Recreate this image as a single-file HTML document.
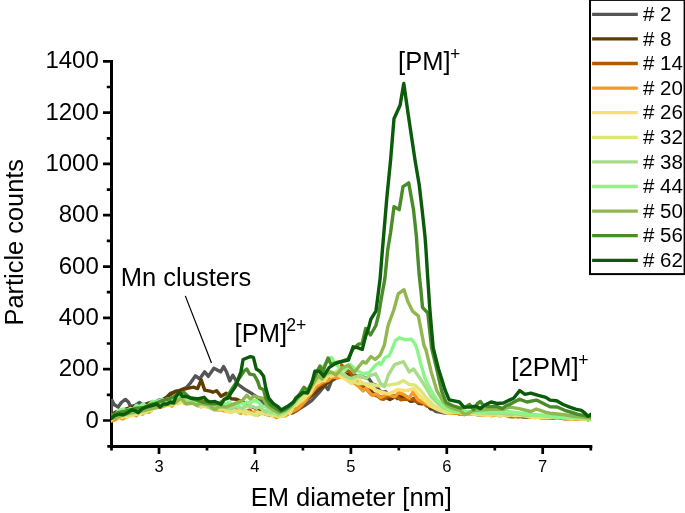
<!DOCTYPE html>
<html><head><meta charset="utf-8"><title>Particle counts vs EM diameter</title>
<style>html,body{margin:0;padding:0;background:#fff}svg{display:block}text{font-family:"Liberation Sans",Arial,sans-serif;fill:#000}</style>
</head><body>
<svg width="685" height="513" viewBox="0 0 685 513">
<rect width="685" height="513" fill="#fff"/>
<g stroke="#000" stroke-width="3" fill="none" stroke-linecap="butt">
<path d="M111.5 59.95V447.9"/>
<path d="M110.0 446.4H592.3"/>
<path stroke-width="2.7" d="M107.3 446.4H111.5M103 420.5H111.5M106.8 394.8H111.5M103 369.2H111.5M106.8 343.5H111.5M103 317.9H111.5M106.8 292.2H111.5M103 266.6H111.5M106.8 240.9H111.5M103 215.2H111.5M106.8 189.6H111.5M103 163.9H111.5M106.8 138.3H111.5M103 112.6H111.5M106.8 87.0H111.5M103 61.3H111.5"/>
<path stroke-width="2.7" d="M111.5 446.4V450.6M159.0 446.4V454M207.0 446.4V450.6M254.9 446.4V454M302.9 446.4V450.6M350.9 446.4V454M398.8 446.4V450.6M446.8 446.4V454M494.8 446.4V450.6M542.7 446.4V454M590.8 446.4V450.6"/>
</g>
<clipPath id="plotclip"><rect x="110.9" y="50" width="480.1" height="396"/></clipPath>
<g fill="none" stroke-width="3.4" stroke-linejoin="round" stroke-linecap="butt" clip-path="url(#plotclip)">
<polyline stroke="#555555" points="109,411 110.9,412 112.1,400.4 114.1,404.5 118.2,407.1 121.3,402.5 125.4,399.4 128.4,402 130.5,406.6 135,405.5 139.7,402.5 143,405 147,404.5 152,404 156,402 159.1,399.9 163,399.5 167,397 170.3,393.3 175,392 180.2,390.1 186.4,387.6 190.4,383 195.5,375.8 199.6,378.9 204.7,371.8 208.3,376.4 213.9,368.2 220.6,371.8 223.6,366.6 226.7,372.3 229.8,380.9 232.8,375.3 235.4,379.4 237.5,384 243.9,388.7 251.2,393.1 258.5,398.2 266,405 274,411 282,414.5 292.9,412.9 304.6,405.6 311.9,400.4 319.2,392.4 325.1,385.1 328,389.5 331.7,380.7 338,377 345,374 352,375 359,376 366,377.8 369,378.9 372.6,384.1 375.8,385.1 379.5,390.8 382.8,392.1 385.8,391.7 388.9,395.8 391.6,398.1 394.6,395.5 397.3,398.5 400.9,397.9 404.3,395.3 407.4,398.2 410.2,401.1 413.3,398.5 417.1,399.5 420.9,402.3 424.3,403.5 427.6,404.4 430.3,408.7 433.2,409.5 436.1,411.5 439.9,412.1 445,413 450.3,411.9 454.1,413.4 459,413.4 463.1,413.5 467.8,413.7 471.7,413.7 476,414.4 481.4,415.1 486,414.5 490.1,414 493.7,414.9 497.9,414.9 503.1,415.4 507.7,415.2 511.4,415.5 515.2,415.9 520.6,416.4 524.5,417 529.6,417 534.8,417.2 539.8,416.8 545.2,418 549.1,417.8 554,417.6 558.5,417.8 563.8,418.1 568.9,418 574.1,419.1 578.5,418.8 583.8,419.2 588.2,418.6"/>
<polyline stroke="#603c00" points="109.5,414.7 112.4,414.3 116.8,411.5 121,413 125,409.4 128.9,408 132.5,407 135.4,409.6 138.4,407.6 141.6,406.1 144.9,404.4 148.6,403.1 151.6,402.1 154.6,402.7 158.4,401.6 161.2,400.4 165.2,398.7 170,394.7 175.6,391.2 180.2,390.7 184.3,389.1 188.4,388.1 193.5,387.1 197.6,388.6 201.2,379.9 204.7,390.1 209.9,391.2 212.9,392.2 216.5,390.7 221.1,396.3 226.2,393.2 231.3,398.8 236.4,399.3 241,401 250,406 260,410 270,413 280,414.5 290,412.5 300,406 310,397 318,390 326,384 334,378 342,374 350,375 357.3,379.2 360.5,382.1 363.7,385.1 366.9,389.1 369.7,389.8 373.4,393.6 377.2,395.5 380.3,396.7 383.1,396.6 386.5,397.7 389.9,399.6 393.8,397.6 396.9,395.9 400.7,396.1 404.5,397.2 407.7,399.5 411.6,401.3 415.3,400.4 418.4,403.3 421.9,403.9 424.6,402.4 427.8,405.1 430.8,408.7 434.7,407.7 437.4,408.6 445,411.9 450.3,412 455.2,412.2 459.2,413.9 463.2,413.6 467.6,413.5 472.1,413.4 477.2,413.5 481.3,413.6 485.3,414.4 490.6,414.6 494.4,414.6 499.8,414.5 504.5,415.2 509.3,415.4 514.1,415.9 518.9,416.7 523.5,415.7 527.2,417.2 531.7,416.2 537,417 541.9,417.7 546,417.1 551.2,416.9 556.2,417.1 561,418.3 566.4,418.7 570.9,417.9 574.7,418.6 579.2,418 584.5,418.9 589.3,418.7"/>
<polyline stroke="#b35a00" points="109.5,415.9 111.7,415.5 115.3,416.4 119.1,413.5 122.1,414.3 125.6,411.6 129.2,411.1 132.8,409.1 135.8,411.5 138.9,408.2 142.6,408.8 145.4,407.8 148.9,405.4 152.4,404.3 155.5,403.4 158.4,406.2 161.6,405.4 164.8,403 168.6,402.2 171.4,400.9 174.9,398.3 177.7,400.2 181,397 184.2,397.8 187.9,399.8 190.7,401.5 193.4,399.5 196.1,401.4 198.9,400.6 201.7,400.8 205.2,401.9 208.5,402.4 211.7,403.6 214.4,403.8 217.4,405.9 221.3,403.5 224.1,406.6 227.5,404.6 231.1,409.1 234.3,407.7 237.7,411.1 240.6,409.4 243.5,411.6 246.8,410.7 249.9,410.1 253,414.2 256.4,411.8 260.3,412.5 263.3,411.5 266.1,412.4 269,415.4 272,413.2 275.5,416.2 278.5,415.5 281.6,414.7 285,415.8 288.7,413.3 292.4,410.9 295.6,411.2 298.9,408.3 302,406 305.4,399.5 309.3,396.1 312.4,392.2 315.2,389.1 318.7,385.3 321.7,384.3 325.1,382 328.7,379.3 331.9,378.6 334.7,377 338.5,374.5 341.8,365 346,369.8 349.7,372 355.8,379.2 359,382.8 361.7,386.8 364.6,389 367.2,389.6 370.6,394 374.4,394.8 377.4,396 381,398.8 383.9,399.2 387,396.8 390.6,395.9 394,396 397,396.4 400.7,399.7 404.4,399.4 407.7,399.1 411.2,399.6 414,399.6 417.1,401.9 420.8,402.7 424,403.4 427.4,406.4 430.7,406.4 434.5,407.1 437.5,408.1 445,411.8 449.9,412.9 455.2,412.6 459.2,413.6 464,413.2 468.8,413.6 473.8,413.4 477.8,414.9 482.1,414.1 487.1,414.9 491,415 495.8,414.6 500.6,414.7 504.8,414.9 508.7,416.5 513.1,416.7 517.5,416.3 522.6,416.7 526.4,416.7 531.2,416.2 534.9,417.5 539.5,416.6 543.9,416.9 548.9,417.5 552.7,418.2 556.5,417.5 560.1,418.4 563.9,418.2 567.7,418.3 572.5,418.6 576.9,418.7 581.3,419 585.1,419 589.1,419.8"/>
<polyline stroke="#f59a23" points="109.5,421.4 111.7,421 115.2,419.9 119.1,417.3 122.6,419.1 126.4,416.9 129.2,415.6 133.2,413.4 136.2,415.9 139.5,412.3 142.5,414.2 145.6,411.7 149.1,412.3 152.4,408.7 155.8,407.6 158.5,407.5 162.1,406.9 165.6,405.4 168.4,404.1 172,406.2 174.9,402.9 177.6,403.7 180.6,401.1 184.1,403.1 187.3,401.7 190.8,403.6 194,402.5 197.9,405.7 201.5,406.8 204.9,405.1 207.7,406.8 211,406.9 214.9,409.4 217.7,410.1 220.4,409.7 223.4,410.7 227.3,410.7 231,409.5 234.5,410.2 237.7,411.5 240.5,413.4 243.2,411.9 246,413.8 249,411.8 251.7,412.7 255,412.2 257.7,415 261,413.3 264.1,413.6 267.1,414.9 270,414.4 272.9,415.1 276.3,417.6 279.8,415.9 282.4,414.9 285.9,415.1 290,412.9 298.8,407.7 304.6,401.9 310.5,393.9 316.3,386.5 322.2,382.2 328,380.7 332.4,376.3 338,378 344,375 350,380 358.7,386.5 363.1,390.9 366,388 371.9,395.3 376.3,393.9 380.6,397.5 387.3,394 394.6,396.8 399,392.4 404.9,395.3 409.2,398.2 412.9,392.4 418,399.7 423.9,402.6 429.7,405.6 438.5,409.2 444.3,411.4 449,413.4 453.8,413.4 459.1,412.9 463.8,414.2 469,414 472.9,414 478.3,413.8 482.4,415.3 486.9,414.3 491,415.7 495.2,415.1 500,415.9 504.4,415 509.1,415.1 512.8,415.5 517.7,415.9 522.5,415.9 526.3,415.9 531.2,417.4 535.2,416.6 538.8,417.4 543,416.8 547.7,417.7 552.1,417.2 556.9,418.1 561.3,417.6 566.6,419 571.4,419.4 576,418.5 579.8,419.1 584.4,419 589.8,419.9"/>
<polyline stroke="#fbdf70" points="109.5,420.3 111.7,419.9 114.6,416.8 118,415.2 121.7,417.4 124.4,416.3 127.7,415.3 131.6,415.9 134.8,414.5 138.5,414.1 141.1,413.4 144.1,409.1 147.5,411.4 151.4,408.3 155.1,405.9 159.1,406 162.4,404.3 165.1,403.1 168.5,404.5 172.3,404.7 175.5,403.7 178.4,403 181.3,402.9 184.5,401.2 187.8,400 190.5,402.6 194.1,401.1 197.3,403.2 201,406.7 203.7,405.4 206.5,407.1 210.4,407.6 213.8,405.5 216.6,407 219.3,407.1 223.2,408.8 227.1,411.4 230.7,412.7 234.3,410.7 237.5,411.3 240.2,410.2 243.6,412.7 247.5,413.6 251.3,413.3 254.7,415.2 257.4,411.9 260.6,413.4 263.8,412.8 266.6,413.2 270.1,413.3 272.7,416.4 275.9,413.7 279.8,415.8 283.7,416 287.1,412.7 289.8,413.4 293.1,407 295.9,405.6 299.8,402.2 303.5,399.5 306.8,395.6 310.5,392.9 313.2,386.8 316.1,383.5 319.1,382.1 322.1,380.3 324.7,380.5 328.3,374.8 331.2,376.3 334,375.3 336.7,374 345.6,379.2 351.4,383.6 357.3,377.8 360.5,381.5 368.9,386.5 377.7,390.9 383,392.4 388.8,393.9 397.5,389.5 406,390.9 413.6,388.7 418,393.9 423.9,399.7 431.2,406.3 438.5,409.9 445,412.5 450,412.9 454,412.2 458.6,412.3 463.6,413.7 467.3,413.8 471.8,413.9 477.1,414.8 481.5,414.8 486.5,415.3 490.1,415.4 494.1,414.3 498.8,415.6 504.1,415.1 509.2,414.8 514.6,415.5 519.2,415.4 522.8,415.4 527.5,416.5 532.6,417.2 536.9,417.4 540.9,417.6 545,417.9 549.2,417.2 553.8,416.8 557.5,417.8 562.4,417.2 566.7,417.9 571.7,419.1 575.5,418.5 579.3,419.1 584.6,419.1 589.2,418.3"/>
<polyline stroke="#dce67a" points="109.5,416.8 111.7,416.4 114.6,416.9 118.5,417 122,414.6 125.4,417 128.7,416.6 132.5,413.1 135.1,414.2 137.9,410.2 141.5,413 145.3,412.6 148.2,408.1 151,411.3 153.8,407 156.4,405.8 159.1,406.4 162,405.5 165.9,403.8 169.6,405.2 173,403.4 176.6,402.4 179.6,400.4 182.5,400.8 186.5,401.3 189.2,401.8 192.9,402.2 196.5,401.2 199.2,404.1 201.9,403.1 205.1,403.3 207.7,403.1 211.6,407 215.5,407.1 219.4,409.5 222.9,408.7 226.2,408 229.3,410.8 232.2,411.8 235.5,411.2 239.3,411.9 242.1,410.5 244.7,409.9 248.6,412.8 252.5,414 255.6,415.1 259.5,413.3 262.2,412.9 265.1,413.4 267.8,415.2 271.8,413.4 275.4,415.4 278.7,416.8 281.8,416.4 284.5,415.9 287.4,409.5 291.2,409.2 294.7,405.2 297.9,400.2 300.9,401.5 304.9,394 308.1,391.4 311.9,385.4 315.7,382.7 319,378.8 321.8,380.1 325.1,378.5 328.9,375.3 331.6,373.4 335.6,371.8 338.3,369.6 342.2,372.6 351,381 358.7,383.6 366,383.6 371.9,384.4 377.7,385.8 383.6,385.1 388.8,385.1 397.5,383.6 403.4,380.7 409.2,384.4 415.1,385.1 420.9,390.9 426.8,398.2 434.1,405.6 441.4,409.9 450,412.5 455,411.6 459,412.2 464.2,412.8 469.1,412.4 473.6,413.9 478.2,414.3 483.3,413.6 486.9,414.4 490.8,413.4 495.7,415 500.8,415.4 504.8,414.2 508.6,415.8 512.4,414.6 516,414.6 519.7,415.3 523.6,415.4 528.8,415.4 533.9,416.6 538.5,416.5 543.5,416.7 547.5,416.5 551.6,416.8 557,417.1 560.7,417.3 565.7,417.4 570.6,417.1 574.3,418.1 578,417.7 582.3,417.7 586,417.6 591.3,418.9"/>
<polyline stroke="#a9dc8a" points="109.5,417.8 111.7,417.4 114.9,416.3 117.6,415 120.8,413.1 123.6,410.9 126.6,410.1 130.2,409.8 134.1,409.4 137.1,408.8 140.4,405.9 143.7,404.5 146.9,406.1 150.4,407.2 153.9,402 157.1,402.1 160.8,404.1 163.5,402.8 166.5,399.3 169.8,399.4 172.8,397.8 176,398.8 178.9,396.5 181.8,398.3 184.8,399.2 187.5,400.5 190.7,401.8 194.4,402.7 199.5,404.4 202.9,403.8 206.3,405.6 208.9,407 211.9,409 214.5,407.1 217.6,408.5 221,406.9 224.3,405.9 227.4,408.3 230.4,408.4 233.6,407 236.1,406.9 239,407 242.4,408.5 245.3,406.7 248.1,405.6 250.7,406.4 253.3,406.7 256.5,408.2 259.3,407 262.3,409.4 265.7,412.2 268.9,411.2 271.6,412.9 274.7,412.1 278,415.1 286,411.5 292,406 298,398.5 304,391.5 309,389.5 314,380.5 319,375 324,372 329,372 335,374 340,372.5 345.6,376.3 351.4,378.5 358.7,375.6 366,378.5 368.9,375.9 375.6,373.8 380.2,383 384.3,386.5 388.6,374.5 394.6,364.6 403.4,361.7 409.2,371.9 413.6,369 419.5,377.8 425.3,386.5 431.2,396.8 438.5,404.1 445.8,408.5 453,411.5 458,411.8 462.4,412.2 466.1,412.3 470.4,412.4 474.3,412.2 478.4,412.4 483.3,412.9 488.6,413.3 492.6,413.6 497.1,413 501.7,413 506,414.1 510.8,415 515.5,413.7 520,414.2 524.9,415.5 528.7,415.5 532.8,414.7 537.2,415.3 541.3,415.2 545.7,416.1 549.6,415.7 553.6,416.5 557.7,416.7 561.3,417 565.7,417.3 570.7,417.4 574.4,417.4 578.9,417.8 583.6,417.1 588.8,418.4"/>
<polyline stroke="#88f788" points="109.5,415 111.7,414.6 115.1,415.5 117.9,411.2 120.6,409.7 123.3,409 126.6,412.3 130.1,408.4 133.3,409.2 136.4,405.3 140.1,407.2 142.9,403.8 145.7,407.5 148.5,405.2 152.4,401.2 155.5,402.6 159.4,400.1 162.4,399.6 165.1,401 168.8,398.7 171.5,399.3 175.1,397.9 178.2,397.9 181.6,396.5 185,395.6 188.2,399.1 191.8,397.8 195.5,401.4 199.5,400.9 202.8,403.2 205.8,403.1 209.1,403.6 212.4,403.7 215.7,404.5 218.1,404.8 221.3,404 224,403.4 226.7,404 229,402.2 232.4,404.8 234.8,404.1 238,405.5 241.1,401.7 243.6,404.3 246.9,402.3 250,403 252.8,401 255.6,400.6 259.1,402.5 262.4,406.1 265.6,406.7 268.4,409.3 271.4,409.4 274.8,413.3 277.2,410.9 280.6,413.3 286,410.5 292,405 298,397 304,390 309,388 314,378 319,368 324,366 328,360 331.6,357.5 335.2,364 340,368 345,370 350.5,364.6 355.7,369.7 362.8,373.8 368.9,372.8 375.1,365.7 379.2,362.6 380.7,364.6 385.3,357.5 389.4,355.4 391.7,350 395.4,340.7 399.2,337.8 404.9,339.7 411.6,339.3 415.4,344.5 417.3,350 420.9,364.6 425.3,379.2 431.2,390.9 437,399.7 442.9,405.6 450.2,409.9 458,411.4 467.7,411.4 480,412.9 490,411.5 508,411.5 527,414 546,415.8 565,417.6 591.5,419"/>
<polyline stroke="#90b84e" points="109.5,418.9 111.7,418.5 120,416 130,413 140,411.5 150,409 160,406.5 168,404 175,403 181,398 186,404 192,403 197,405.5 200,403.4 208.8,404.8 214.6,409.9 219,406.3 226.3,407 233.6,404.1 242.4,400.4 246.8,395.3 250.4,399 254.1,396 258.5,397.5 262.9,398.2 267.3,405.6 273.1,409.9 278.9,412.9 284,411 290,407 297,399 303,393 308,392 313,384 318,376 322,379 326,374 330.9,371.9 336.2,374.9 342.4,367.7 348.5,365.1 354.1,372.8 358.7,366.7 362.8,361.6 365.9,363.1 371,356.5 375.1,359.5 380.2,354.9 384.3,345.2 388.1,325.5 393.8,310 398.2,293.9 404,289.7 407.8,301.5 412.5,311.1 418.3,315.9 421.1,330.2 424,345.5 426,350 431.2,371.9 437,390.9 442.9,401.2 447,405.5 453.3,408.6 460.4,410.7 464.5,414.7 469.1,413.2 472.7,410.7 478.8,410.1 486,409.6 497.2,409.1 503,409.3 509.9,407.1 519.3,408.6 530.7,411.5 536.4,409 545.9,412.4 550,413.2 564.6,414.7 575.5,416.5 585,417.3 591.5,418"/>
<polyline stroke="#4a8c2a" points="109.5,415.6 111.7,415.2 118,412.7 125,411.2 131,409.7 137,408.2 143,407.7 150,404.7 156,403.2 162,400.7 168,399.2 174,396.7 179,393.5 184,392.4 190,398 196,400 202,402 208,403 214,404 220,403 226,398 230,392 233.6,386.5 239.5,377.8 243.9,371.2 246.8,369 249.7,374.1 254.1,374.9 257.7,381.4 259.9,388 263.6,389.5 265.8,398.2 270.2,404.8 276,408.5 280.4,411.4 286,409 292,404 298.8,395.3 303.9,387.3 307.5,390.9 314.9,376.3 320,366.1 322.9,371.9 325,365.7 328.1,358 331.1,364.6 336.5,362.5 341,361.5 348,359 353,349 359,343.9 362.1,343.9 365.7,328.4 370.5,335 375.9,325.5 378.9,313.3 381,300 384.9,278.6 387.7,250 390.6,232.5 394,206.8 399.2,209.6 403,186.7 408.7,182.9 413.5,209.6 416.4,236.4 417.3,250 419.2,274.8 421.1,292 422.5,307.3 427.8,313 429.7,330.2 431.6,347.9 437.4,371.9 441.6,390.9 446.1,402.5 452.3,405.5 460.4,408.1 465,407.5 469.6,404.5 473.7,409.6 477.5,403.5 480.4,401.5 483.4,405.5 488,406.6 497.2,406.6 502.3,408.6 506.4,405.5 510,404.3 519.3,399.2 526.9,402 536.4,400.1 545.9,404.8 550,406.7 557.3,407 564.6,410.3 572,412.5 577.7,414.3 583,415.4 591.5,416.8"/>
<polyline stroke="#0a5c0a" points="109.5,418.7 111.6,418.3 115.2,415.3 119.2,414.2 123.3,414.7 128.4,412.2 132,409.6 135.1,410.7 138.1,412.7 141.7,409.1 144.8,407.6 147.9,406.6 151.9,405.5 157,404 160.1,407.1 163.2,404 167.3,404 170.5,402 173.6,402.9 176.1,396.3 179.7,392.2 182.3,396.3 187.4,396.8 192,398.3 197.6,398.8 204.2,397.3 207.3,400.9 210.4,401.9 215,401.4 221.1,404.5 224.2,399.3 227.7,398.3 231.3,392.7 235.4,386.6 238.5,378.4 240.9,371.9 243.1,359.5 246.8,358 250.4,356.6 253.4,357.3 256.3,369 259.9,371.2 263.6,376.3 265.8,388 268.7,398.2 273.1,403.4 277.5,406.3 281.1,409.9 287.7,406.3 293.6,401.9 295.8,398.2 303.2,392.4 307.5,393.1 311.9,382.9 314.9,371.2 319.2,371.2 323.6,376.3 329.1,367.7 335.2,363.6 341.3,361.6 348.5,360 353.1,346.8 358.2,347.8 362.3,349.3 365.4,337 368.7,327.6 370.8,319.4 375.9,311.2 377.4,300 380.1,278.6 382.4,250 383.9,232.5 386.8,198.2 390.6,160 394,118.7 400.1,105.3 403.8,83.4 408.7,117.7 415,160 419.2,184.8 422.1,209.6 425,236.4 426,250 427.8,278.6 429.7,307.3 431.6,330.2 433.2,347.9 438.5,369 442,380 445.1,390.2 449.2,399.9 459.4,402 464,407.1 469.6,407.1 475.3,406.1 480.4,408.6 485,405 491.1,402 497.2,403.5 503.4,403 509.9,399.9 513.6,398.2 519.7,390.6 525,394.4 530.7,393.1 538.3,395.4 545.9,397.3 550,400.1 556.6,400.8 563.1,404.5 570.4,407.4 575.5,409.2 581.4,410.4 585,413.2 588,416.2 591.5,414"/>
</g>
<g font-size="24" text-anchor="end">
<text x="98.8" y="427.6">0</text>
<text x="98.8" y="376.3">200</text>
<text x="98.8" y="325.0">400</text>
<text x="98.8" y="273.7">600</text>
<text x="98.8" y="222.3">800</text>
<text x="98.8" y="171.0">1000</text>
<text x="98.8" y="119.7">1200</text>
<text x="98.8" y="68.4">1400</text>
</g>
<g font-size="16.5" text-anchor="middle">
<text x="159.0" y="471.9">3</text>
<text x="254.9" y="471.9">4</text>
<text x="350.9" y="471.9">5</text>
<text x="446.8" y="471.9">6</text>
<text x="542.7" y="471.9">7</text>
</g>
<text x="351.3" y="506.3" font-size="25.5" text-anchor="middle">EM diameter [nm]</text>
<text transform="translate(22.6 242.2) rotate(-90)" font-size="25.4" text-anchor="middle">Particle counts</text>
<text x="120.8" y="285.6" font-size="25.5">Mn clusters</text>
<path d="M185.3 295.9L211.5 363" stroke="#000" stroke-width="1.2" fill="none"/>
<text x="234.6" y="342" font-size="25.5">[PM]<tspan font-size="17.6" dx="-0.8" dy="-11.3">2+</tspan></text>
<text x="398.1" y="69.7" font-size="25.5">[PM]<tspan font-size="17.6" dx="-0.5" dy="-9.7">+</tspan></text>
<text x="511.3" y="376.1" font-size="25.8">[2PM]<tspan font-size="17.6" dx="-0.5" dy="-9.7">+</tspan></text>
<rect x="590" y="-0.1" width="94.6" height="274.2" fill="#fff" stroke="#000" stroke-width="2"/>
<g stroke-width="3.3" fill="none">
<path d="M592.1 14.3H637.8" stroke="#555555"/>
<path d="M592.1 38.9H637.8" stroke="#603c00"/>
<path d="M592.1 63.5H637.8" stroke="#b35a00"/>
<path d="M592.1 88.1H637.8" stroke="#f59a23"/>
<path d="M592.1 112.7H637.8" stroke="#fbdf70"/>
<path d="M592.1 137.3H637.8" stroke="#dce67a"/>
<path d="M592.1 161.9H637.8" stroke="#a9dc8a"/>
<path d="M592.1 186.5H637.8" stroke="#88f788"/>
<path d="M592.1 211.1H637.8" stroke="#90b84e"/>
<path d="M592.1 235.7H637.8" stroke="#4a8c2a"/>
<path d="M592.1 260.3H637.8" stroke="#0a5c0a"/>
</g>
<g font-size="20.5">
<text x="643" y="21.0"># 2</text>
<text x="643" y="45.6"># 8</text>
<text x="643" y="70.2"># 14</text>
<text x="643" y="94.8"># 20</text>
<text x="643" y="119.4"># 26</text>
<text x="643" y="144.0"># 32</text>
<text x="643" y="168.6"># 38</text>
<text x="643" y="193.2"># 44</text>
<text x="643" y="217.8"># 50</text>
<text x="643" y="242.4"># 56</text>
<text x="643" y="267.0"># 62</text>
</g>
</svg></body></html>
